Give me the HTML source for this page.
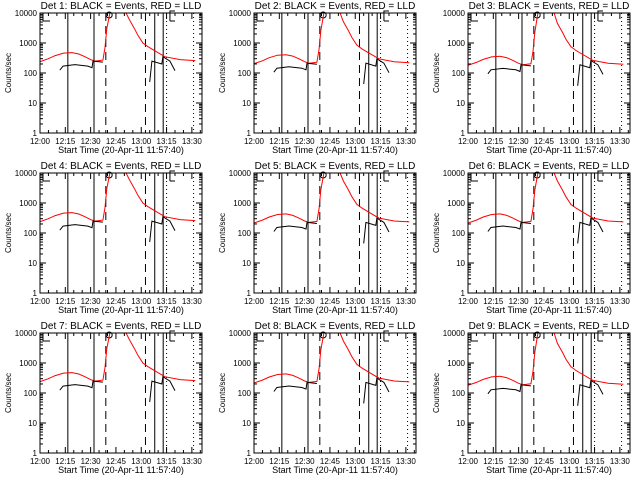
<!DOCTYPE html>
<html><head><meta charset="utf-8"><style>
html,body{margin:0;padding:0;background:#fff}
svg{display:block}
text{font-family:"Liberation Sans",sans-serif;font-size:8px;fill:#000}
</style></head><body>
<svg id="c" width="640" height="480" viewBox="0 0 640 480"></svg>
<script>
const detectors = [1,2,3,4,5,6,7,8,9];
const detScale = [1.0,0.85,0.75,1.0,0.9,0.9,1.0,0.9,0.75];
const xTickLabels = ["12:00","12:15","12:30","12:45","13:00","13:15","13:30"];
const xTickMinutes = [0,15,30,45,60,75,90];
const yTickValues = [1,10,100,1000,10000];
const yTickLabels = ["1","10","100","1000","10000"];
const redT = [0,5,9,14,19,23,26.6,30,32.6,37.3,38.5,39.6,41.4,51,53,56,58,61,64,68,74,83,92];
const redV = [240,300,380,460,480,430,350,280,250,270,700,3000,10000,10000,6000,3000,1800,1000,750,550,350,280,260];
const blackT1 = [11.8,13.6,20.7,28.4,30.8,31.4,37.3];
const blackV1 = [125,170,190,170,150,250,230];
const blackT2 = [65,66.3,72.2,72.8,77,80];
const blackV2 = [50,250,200,350,250,120];
const solidLines = [16.5,32,68,73];
const dashedLines = [39,62.5];
const dottedLines = [75,91];

const svg = document.getElementById('c');
const NS = 'http://www.w3.org/2000/svg';
function mk(tag, attrs, parent){
  const e = document.createElementNS(NS, tag);
  for (const k in attrs) e.setAttribute(k, attrs[k]);
  (parent||svg).appendChild(e);
  return e;
}
const PW = 162, PH = 120, TMAX = 96;
detectors.forEach((d, i) => {
  const col = i % 3, row = Math.floor(i / 3);
  const L = 40 + col * 214, T = 13 + row * 160;
  const g = mk('g', {});
  
  
  const xs = t => L + t * PW / TMAX;
  const ys = v => T + PH - Math.log10(Math.max(1, Math.min(10000, v))) * PH / 4;
  const cid = 'clip' + i;
  const cp = mk('clipPath', {id: cid}, g);
  mk('rect', {x: L, y: T, width: PW, height: PH}, cp);
  solidLines.forEach(t => { const l = mk('line', {x1: xs(t), x2: xs(t), y1: T, y2: T + PH, stroke: '#000', 'stroke-width': 1}, g);   });
  dashedLines.forEach(t => { const l = mk('line', {x1: xs(t), x2: xs(t), y1: T, y2: T + PH, stroke: '#000', 'stroke-width': 1, 'stroke-dasharray': '8,5'}, g);   });
  dottedLines.forEach(t => { const l = mk('line', {x1: xs(t), x2: xs(t), y1: T, y2: T + PH, stroke: '#000', 'stroke-width': 1, 'stroke-dasharray': '1,3'}, g);   });
  mk('path', {d: `M${L+3} ${T+8}V${T}H${L+10}M${L+3} ${T+8}H${L+10}`, stroke:'#000', fill:'none'}, g);
  mk('path', {d: `M${xs(77)} ${T+8}V${T-2}H${xs(80)}M${xs(77)} ${T+8}H${xs(80)}`, stroke:'#000', fill:'none'}, g);
  mk('circle', {cx: xs(41), cy: T + 2, r: 3, stroke: '#000', fill: 'none'}, g);
  const s = detScale[i];
  const pts = (tt, vv) => tt.map((t, k) => xs(t).toFixed(1) + ',' + ys(vv[k] * (vv[k] >= 10000 ? 1 : s)).toFixed(1)).join(' ');
  const red = mk('polyline', {points: pts(redT, redV), fill: 'none', stroke: '#f00', 'stroke-width': 1, 'clip-path': `url(#${cid})`}, g);
  
  
  const b1 = mk('polyline', {points: pts(blackT1, blackV1), fill: 'none', stroke: '#000', 'stroke-width': 1}, g);
  
  
  const b2 = mk('polyline', {points: pts(blackT2, blackV2), fill: 'none', stroke: '#000', 'stroke-width': 1}, g);
  
  
  mk('rect', {x: L, y: T, width: PW, height: PH, fill: 'none', stroke: '#000', 'stroke-width': 1}, g);
  for (let m = 0; m <= TMAX; m += 5) {
    const major = m % 15 === 0, h = major ? 6 : 3;
    mk('line', {x1: xs(m), x2: xs(m), y1: T + PH, y2: T + PH - h, stroke: '#000'}, g);
    mk('line', {x1: xs(m), x2: xs(m), y1: T, y2: T + h, stroke: '#000'}, g);
  }
  xTickMinutes.forEach((m, k) => {
    const tx = mk('text', {x: xs(m), y: T + PH + 11, 'text-anchor': 'middle'}, g);
    tx.textContent = xTickLabels[k];
    
    
  });
  for (let e = 0; e < 4; e++) for (let k = 1; k <= 10; k++) {
    const v = k * Math.pow(10, e), y = ys(v), h = (k === 10 || k === 1) ? 6 : 3;
    mk('line', {x1: L, x2: L + h, y1: y, y2: y, stroke: '#000'}, g);
    mk('line', {x1: L + PW, x2: L + PW - h, y1: y, y2: y, stroke: '#000'}, g);
  }
  yTickValues.forEach((v, k) => {
    const tx = mk('text', {x: L - 3, y: ys(v) + 3, 'text-anchor': 'end'}, g);
    tx.textContent = yTickLabels[k];
    
    
  });
  const yt = mk('text', {x: 0, y: 0, 'text-anchor': 'middle', transform: `translate(${L - 29},${T + 60}) rotate(-90)`}, g);
  yt.textContent = 'Counts/sec';
  
  
  const xt = mk('text', {x: L + 81, y: T + PH + 20, 'text-anchor': 'middle', style: 'font-size:9px'}, g);
  xt.textContent = 'Start Time (20-Apr-11 11:57:40)';
  
  
  const tt = mk('text', {x: L + 81, y: T - 4, 'text-anchor': 'middle', style: 'font-size:10px'}, g);
  tt.textContent = 'Det ' + d + ': BLACK = Events, RED = LLD';
  
  
});
</script>
</body></html>
